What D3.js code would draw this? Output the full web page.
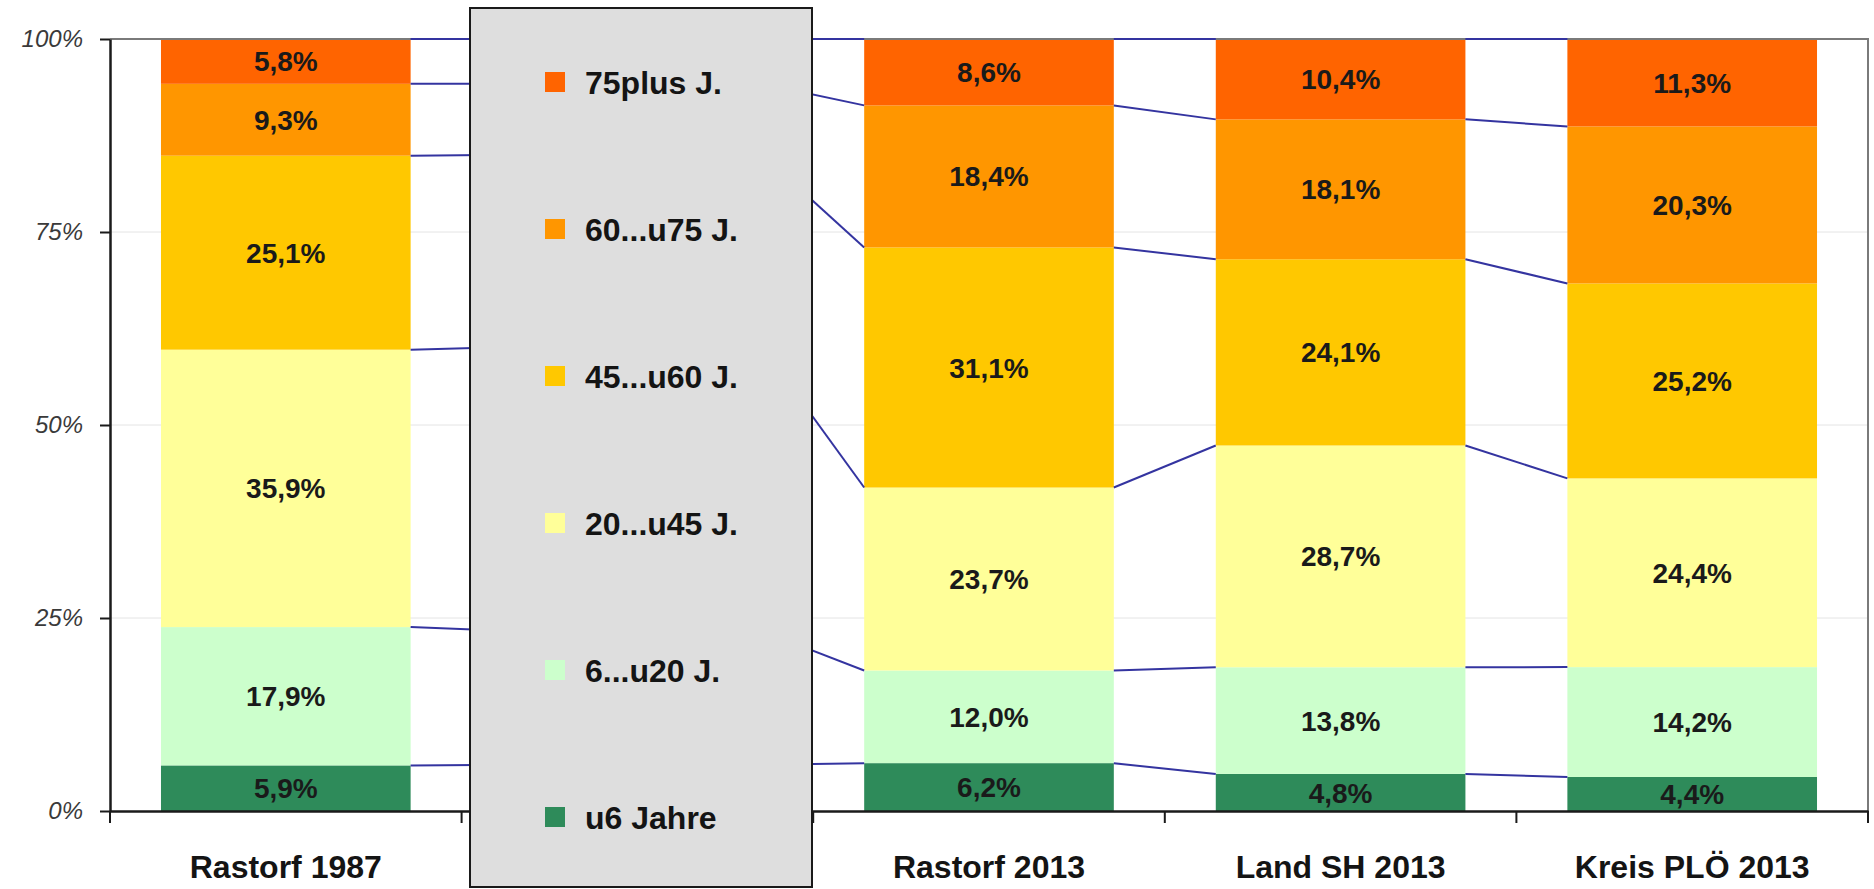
<!DOCTYPE html>
<html>
<head>
<meta charset="utf-8">
<script src="https://cdn.jsdelivr.net/npm/d3@7"></script>
<style>
  html, body { margin: 0; padding: 0; background: #ffffff; }
  svg { display: block; }
  text { font-family: "Liberation Sans", Arial, sans-serif; }
</style>
</head>
<body>
<svg id="chart" width="1874" height="889"></svg>
<script>
// ---- data ----
const categories = ["Rastorf 1987", "", "Rastorf 2013", "Land SH 2013", "Kreis PLÖ 2013"];
const seriesNames = ["u6 Jahre", "6...u20 J.", "20...u45 J.", "45...u60 J.", "60...u75 J.", "75plus J."];
const u6Jahre  = [5.9, 6.0, 6.2, 4.8, 4.4];
const u20      = [17.9, 17.3, 12.0, 13.8, 14.2];
const u45      = [35.9, 36.8, 23.7, 28.7, 24.4];
const u60      = [25.1, 24.9, 31.1, 24.1, 25.2];
const u75      = [9.3, 9.2, 18.4, 18.1, 20.3];
const plus75   = [5.8, 5.8, 8.6, 10.4, 11.3];
const seriesColors = ["#2e8b5a", "#ccffcc", "#ffff99", "#ffc800", "#ff9600", "#ff6400"];
const yTickValues = [0, 0.25, 0.5, 0.75, 1];
const hiddenCategory = 1; // column covered by the legend box

const seriesValues = [u6Jahre, u20, u45, u60, u75, plus75];
const keys = seriesNames.map((d, i) => "s" + i);
const rows = categories.map((c, i) => {
  const r = { idx: i };
  keys.forEach((k, j) => r[k] = seriesValues[j][i]);
  return r;
});

const stack = d3.stack().keys(keys).offset(d3.stackOffsetExpand);
const layers = stack(rows);

// ---- layout ----
const svg = d3.select("#chart");
const plotLeft = 110, plotRight = 1868, plotTop = 39, plotBottom = 811;

const x = d3.scaleBand().domain(d3.range(categories.length))
  .range([plotLeft, plotRight]).paddingInner(0.29).paddingOuter(0.145);
const y = d3.scaleLinear().domain([0, 1]).range([plotBottom, plotTop]);

const de = d3.formatLocale({ decimal: ",", thousands: ".", grouping: [3], currency: ["", "€"] });
const fmt = de.format(".1f");

// gridlines
svg.append("g").selectAll("line").data(yTickValues.filter(v => v > 0 && v < 1)).join("line")
  .attr("x1", plotLeft).attr("x2", plotRight)
  .attr("y1", d => y(d)).attr("y2", d => y(d))
  .attr("stroke", "#e4e4e4").attr("stroke-width", 1);

// bars
const gBars = svg.append("g");
layers.forEach((layer, j) => {
  gBars.append("g").attr("fill", seriesColors[j])
    .selectAll("rect").data(layer).join("rect")
    .attr("x", d => x(d.data.idx))
    .attr("width", x.bandwidth())
    .attr("y", d => y(d[1]))
    .attr("height", d => y(d[0]) - y(d[1]));
});

// plot area border (top + right)
svg.append("path")
  .attr("d", `M${plotLeft},${plotTop}H${plotRight}V${plotBottom}`)
  .attr("fill", "none").attr("stroke", "#7a7a7a").attr("stroke-width", 2);

// series lines
const gSeries = svg.append("g").attr("stroke", "#3434a0").attr("stroke-width", 2).attr("fill", "none");
layers.forEach(layer => {
  for (let i = 0; i < layer.length - 1; i++) {
    gSeries.append("line")
      .attr("x1", x(i) + x.bandwidth()).attr("y1", y(layer[i][1]))
      .attr("x2", x(i + 1)).attr("y2", y(layer[i + 1][1]));
  }
});

// data labels
const gLabels = svg.append("g").attr("text-anchor", "middle")
  .attr("font-size", 28).attr("font-weight", "bold").attr("fill", "#1a1a1a");
layers.forEach((layer, j) => {
  gLabels.append("g").selectAll("text").data(layer.filter(d => d.data.idx !== hiddenCategory)).join("text")
    .attr("x", d => x(d.data.idx) + x.bandwidth() / 2)
    .attr("y", d => (y(d[0]) + y(d[1])) / 2)
    .attr("dy", "0.36em")
    .text(d => fmt(seriesValues[j][d.data.idx]) + "%");
});

// y axis
const yAxis = d3.axisLeft(y).tickValues(yTickValues)
  .tickFormat(d => Math.round(d * 100) + "%")
  .tickSizeInner(10).tickSizeOuter(0).tickPadding(17);
const gy = svg.append("g").attr("transform", `translate(${plotLeft},0)`).call(yAxis);
gy.select(".domain").attr("stroke", "#1a1a1a").attr("stroke-width", 2.5);
gy.selectAll(".tick line").attr("stroke", "#1a1a1a").attr("stroke-width", 2);
gy.selectAll(".tick text").attr("font-size", 24).attr("font-style", "italic")
  .attr("fill", "#3a3a3a").attr("font-family", "'Liberation Sans', Arial, sans-serif");

// x axis (labels)
const xAxis = d3.axisBottom(x).tickFormat(i => categories[i]).tickSize(0).tickPadding(44);
const gx = svg.append("g").attr("transform", `translate(0,${plotBottom})`).call(xAxis);
gx.select(".domain").attr("stroke", "#1a1a1a").attr("stroke-width", 2.5);
gx.selectAll(".tick text").attr("font-size", 32).attr("font-weight", "bold")
  .attr("fill", "#141414").attr("font-family", "'Liberation Sans', Arial, sans-serif");

// x axis ticks at category boundaries
const boundaries = d3.range(categories.length).map(i => x(i) - (x.step() - x.bandwidth()) / 2)
  .concat([plotRight]);
gx.append("g").selectAll("line").data(boundaries).join("line")
  .attr("x1", d => d).attr("x2", d => d)
  .attr("y1", 0).attr("y2", 12)
  .attr("stroke", "#1a1a1a").attr("stroke-width", 2);

// legend box (covers the second column)
const legend = svg.append("g");
legend.append("rect")
  .attr("x", 470).attr("y", 8).attr("width", 342).attr("height", 879)
  .attr("fill", "#dedede").attr("stroke", "#1a1a1a").attr("stroke-width", 2);
const legendOrder = d3.range(seriesNames.length).reverse();
const ly = d3.scalePoint().domain(legendOrder).range([82, 817]);
const items = legend.selectAll("g.item").data(legendOrder).join("g")
  .attr("class", "item")
  .attr("transform", j => `translate(545,${ly(j)})`);
items.append("rect").attr("x", 0).attr("y", -10).attr("width", 20).attr("height", 20)
  .attr("fill", j => seriesColors[j]);
items.append("text").attr("x", 40).attr("dy", "0.36em")
  .attr("font-size", 32).attr("font-weight", "bold").attr("fill", "#141414")
  .text(j => seriesNames[j]);
</script>
</body>
</html>
